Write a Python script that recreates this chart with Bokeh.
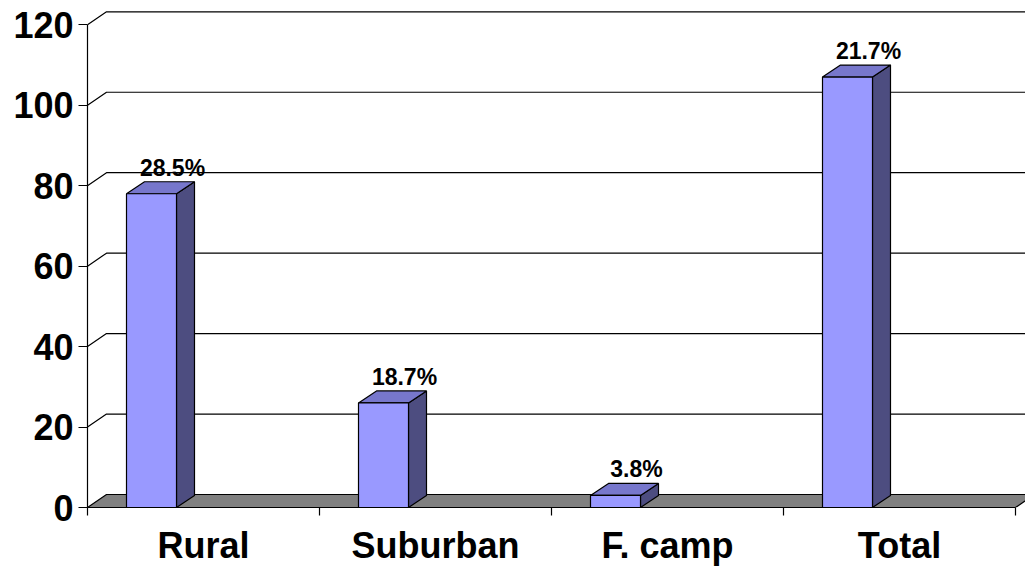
from bokeh.plotting import figure
from bokeh.models import FixedTicker, Range1d, ColumnDataSource
from bokeh.core.properties import value
from bokeh.embed import file_html
from bokeh.resources import INLINE

# Data
categories = ["Rural", "Suburban", "F. camp", "Total"]
counts = [78, 26, 3, 107]
pct_labels = ["28.5%", "18.7%", "3.8%", "21.7%"]
y_ticks = [0, 20, 40, 60, 80, 100, 120]

# Layout (pixels)
W, H = 1025, 569
LEFT, BOTTOM = 87, 62
FRAME_W = W - LEFT
FRAME_H = H - BOTTOM
PX_PER_UNIT = 4.0225      # vertical pixels per count
CAT_PX = 232              # horizontal pixels per category slot

x_start = -0.5
x_end = x_start + FRAME_W / CAT_PX
y_end = FRAME_H / PX_PER_UNIT


def sx(px):
    return px / CAT_PX


def sy(px):
    return px / PX_PER_UNIT


# 3-D depth offsets
WALL_DX, WALL_DY = sx(19), sy(13)
BAR_DX, BAR_DY = sx(18), sy(12)
BAR_OFF, BAR_W = sx(39), sx(50)

FONT = "Liberation Sans"
FRONT = "#9999FF"
TOP = "#7777CC"
SIDE = "#4D4D80"
FLOOR = "#808080"

p = figure(width=W, height=H,
           x_range=Range1d(x_start, x_end), y_range=Range1d(0, y_end),
           min_border_left=LEFT, min_border_bottom=BOTTOM,
           min_border_top=0, min_border_right=0,
           output_backend="svg", toolbar_location=None)
p.outline_line_color = None
p.xgrid.visible = False
p.ygrid.visible = False
p.background_fill_color = "white"
p.border_fill_color = "white"

# side / back wall grid lines
grid_xs, grid_ys = [], []
for v in y_ticks[1:]:
    grid_xs.append([x_start, x_start + WALL_DX, x_end + 1])
    grid_ys.append([v, v + WALL_DY, v + WALL_DY])
p.multi_line(grid_xs, grid_ys, line_color="black", line_width=1.2)

# floor
n = len(categories)
p.patch([x_start, x_start + WALL_DX, x_start + n + WALL_DX, x_start + n],
        [0, WALL_DY, WALL_DY, 0],
        fill_color=FLOOR, line_color="black", line_width=1.2)

# bars
left = [i - 0.5 + BAR_OFF for i in range(n)]
right = [l + BAR_W for l in left]
mid = [(l + r) / 2 for l, r in zip(left, right)]

side_xs = [[r, r + BAR_DX, r + BAR_DX, r] for r in right]
side_ys = [[0, BAR_DY, v + BAR_DY, v] for v in counts]
top_xs = [[l, r, r + BAR_DX, l + BAR_DX] for l, r in zip(left, right)]
top_ys = [[v, v, v + BAR_DY, v + BAR_DY] for v in counts]

p.patches(side_xs, side_ys, fill_color=SIDE, line_color="black", line_width=1.2)
p.patches(top_xs, top_ys, fill_color=TOP, line_color="black", line_width=1.2)
src = ColumnDataSource(dict(left=left, right=right, top=counts, mid=mid, lab=pct_labels))
p.quad(left="left", right="right", bottom=0, top="top", source=src,
       fill_color=FRONT, line_color="black", line_width=1.2)

# value labels
p.text(x="mid", y="top", text="lab", source=src, x_offset=21, y_offset=-26,
       text_align="center", text_baseline="middle",
       text_font=value(FONT), text_font_style="bold", text_font_size="23px",
       text_color="black")

# y axis
ya = p.yaxis[0]
ya.ticker = FixedTicker(ticks=y_ticks)
ya.bounds = (0, 120)
ya.major_tick_out = 9
ya.major_tick_in = 0
ya.minor_tick_out = 0
ya.minor_tick_in = 0
ya.major_label_standoff = 5
ya.major_label_text_font = FONT
ya.major_label_text_font_style = "bold"
ya.major_label_text_font_size = "36px"
ya.major_label_text_color = "black"
ya.axis_line_color = "black"
ya.axis_line_width = 1.2
ya.major_tick_line_width = 1.2

# x axis
xa = p.xaxis[0]
xa.ticker = FixedTicker(ticks=list(range(n)),
                        minor_ticks=[i - 0.5 for i in range(n + 1)])
xa.major_label_overrides = {i: c for i, c in enumerate(categories)}
xa.bounds = (x_start, x_start + n)
xa.major_tick_out = 0
xa.major_tick_in = 0
xa.minor_tick_out = 8
xa.minor_tick_in = 0
xa.minor_tick_line_width = 1.2
xa.major_label_standoff = 9
xa.major_label_text_font = FONT
xa.major_label_text_font_style = "bold"
xa.major_label_text_font_size = "36px"
xa.major_label_text_color = "black"
xa.axis_line_color = "black"
xa.axis_line_width = 1.2

open("out.html", "w").write(file_html(p, INLINE))
